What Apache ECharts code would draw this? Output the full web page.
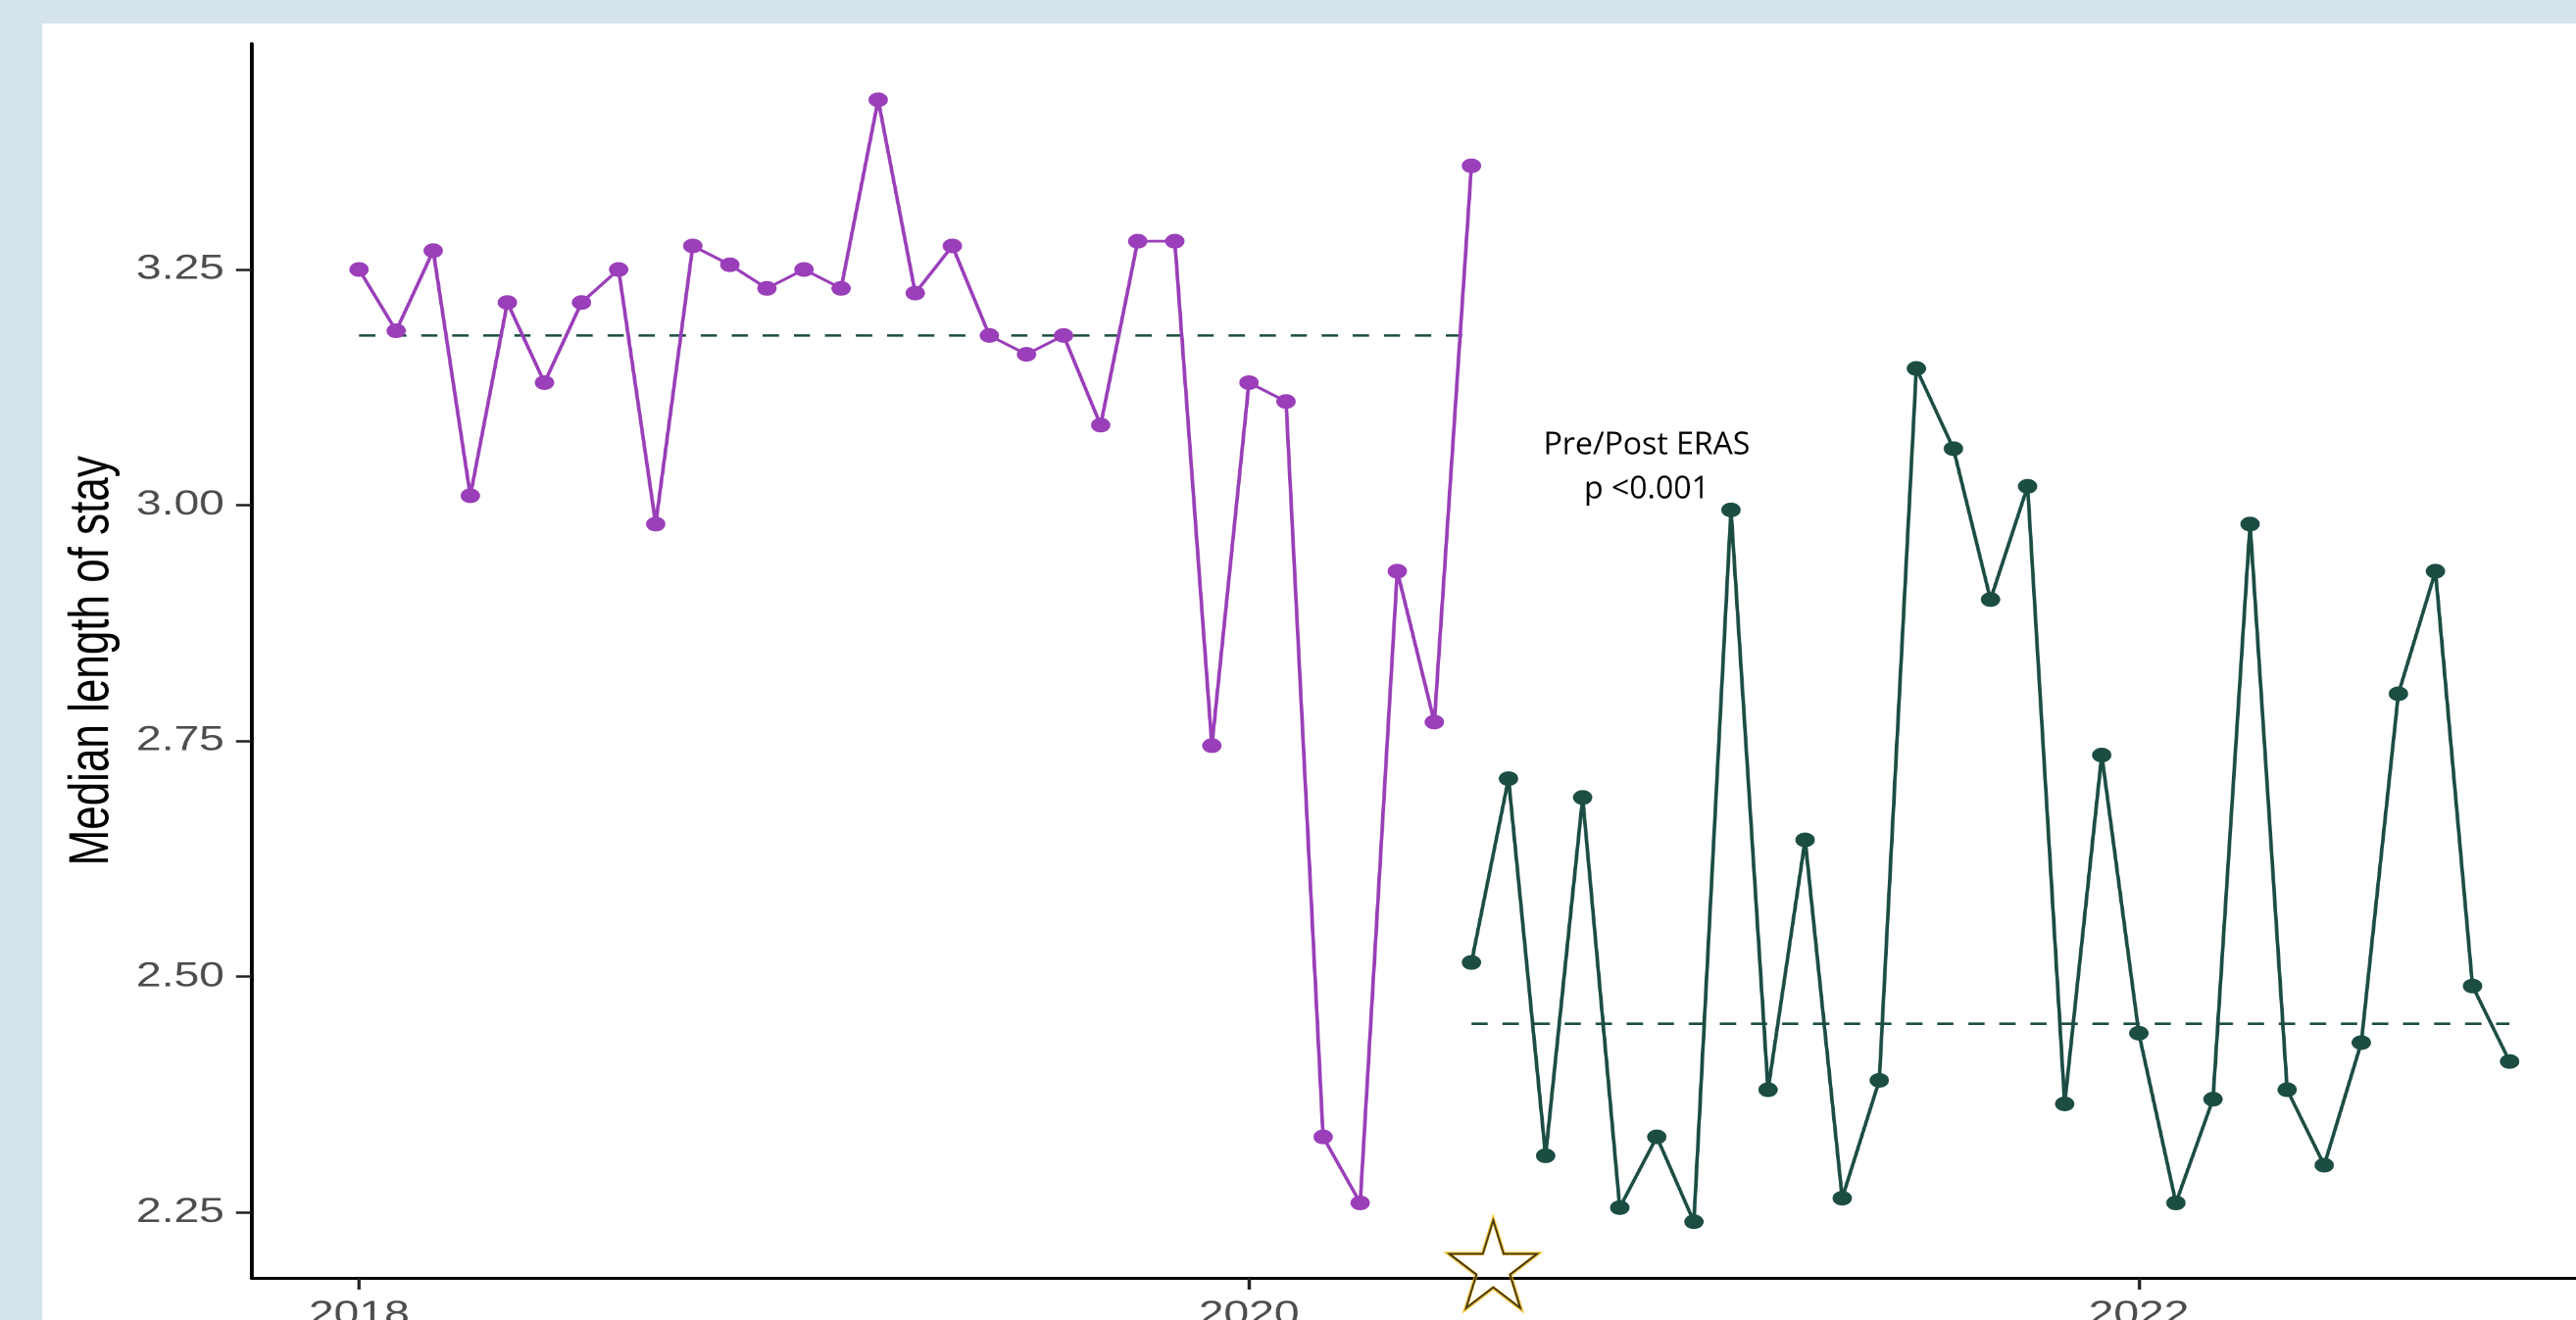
<!DOCTYPE html>
<html>
<head>
<meta charset="utf-8">
<title>Median length of stay, pre/post ERAS</title>
<script src="https://cdn.jsdelivr.net/npm/echarts@6/dist/echarts.min.js"></script>
<style>
  html, body { margin: 0; padding: 0; width: 2628px; height: 1347px; overflow: hidden; background: #d5e4eb; }
  #panel { position: absolute; left: 43px; top: 24px; right: 0; bottom: 0; background: #ffffff; }
  /* the plot is drawn on a narrower canvas and widened, as in the slide */
  #chart { position: absolute; left: 0; top: 0; width: 2100px; height: 1400px; transform-origin: 0 0; }
</style>
</head>
<body>
<div id="panel"></div>
<div id="chart"></div>
<script>
// ---- data ----
const preMonths = [
  '2018-01','2018-02','2018-03','2018-04','2018-05','2018-06','2018-07','2018-08','2018-09','2018-10','2018-11','2018-12',
  '2019-01','2019-02','2019-03','2019-04','2019-05','2019-06','2019-07','2019-08','2019-09','2019-10','2019-11','2019-12',
  '2020-01','2020-02','2020-03','2020-04','2020-05','2020-06','2020-07'
];
const preLOS = [
  3.25, 3.185, 3.27, 3.01, 3.215, 3.13, 3.215, 3.25, 2.98, 3.275, 3.255, 3.23,
  3.25, 3.23, 3.43, 3.225, 3.275, 3.18, 3.16, 3.18, 3.085, 3.28, 3.28, 2.745,
  3.13, 3.11, 2.33, 2.26, 2.93, 2.77, 3.36
];
const postMonths = [
  '2020-07','2020-08','2020-09','2020-10','2020-11','2020-12',
  '2021-01','2021-02','2021-03','2021-04','2021-05','2021-06','2021-07','2021-08','2021-09','2021-10','2021-11','2021-12',
  '2022-01','2022-02','2022-03','2022-04','2022-05','2022-06','2022-07','2022-08','2022-09','2022-10','2022-11'
];
const postLOS = [
  2.515, 2.71, 2.31, 2.69, 2.255, 2.33,
  2.24, 2.995, 2.38, 2.645, 2.265, 2.39, 3.145, 3.06, 2.90, 3.02, 2.365, 2.735,
  2.44, 2.26, 2.37, 2.98, 2.38, 2.30, 2.43, 2.80, 2.93, 2.49, 2.41
];
const preMedian = 3.18;
const postMedian = 2.45;
const yearTicks = [2018, 2020, 2022];
const losTicks = [2.25, 2.50, 2.75, 3.00, 3.25];
const erasStart = [2020.549, 2.195];           // star marking the ERAS roll-out
const annotation = { lines: ['Pre/Post ERAS', 'p <0.001'], at: [2020.894, 3.04] };

// ---- styling ----
const STRETCH = 1.32;
const PURPLE = '#9a3eb9';
const GREEN = '#1b4d43';
const AXIS_FONT = 'Liberation Sans, Arial, sans-serif';
const STAR_PATH = 'path://M50,0 L61.23,34.55 L97.55,34.55 L68.17,55.9 L79.39,90.45 L50,69.1 L20.61,90.45 L31.83,55.9 L2.45,34.55 L38.77,34.55 Z';

// month string -> decimal year
const toYear = m => { const [y, mo] = m.split('-').map(Number); return y + (mo - 1) / 12; };
const prePts = preMonths.map((m, i) => [toYear(m), preLOS[i]]);
const postPts = postMonths.map((m, i) => [toYear(m), postLOS[i]]);

// axis extents: data range padded by 5% on each side
const allX = prePts.concat(postPts).map(p => p[0]);
const allY = prePts.concat(postPts).map(p => p[1]);
const xMin = Math.min(...allX), xMax = Math.max(...allX);
const yMin = Math.min(...allY), yMax = Math.max(...allY);
const xPad = (xMax - xMin) * 0.05, yPad = (yMax - yMin) * 0.05;

const el = document.getElementById('chart');
el.style.transform = 'scaleX(' + STRETCH + ')';
const chart = echarts.init(el, null, { renderer: 'canvas', devicePixelRatio: 2 });

chart.setOption({
  animation: false,
  backgroundColor: 'transparent',
  grid: { left: 194.4, top: 44.6, width: 1828.3, height: 1259.4, containLabel: false },
  xAxis: {
    type: 'value',
    min: xMin - xPad,
    max: xMax + xPad,
    splitLine: { show: false },
    axisLine: { show: true, lineStyle: { color: '#000', width: 3 } },
    axisTick: { show: true, length: 12, customValues: yearTicks, lineStyle: { color: '#222', width: 2.5 } },
    axisLabel: {
      customValues: yearTicks, margin: 21,
      formatter: v => String(Math.round(v)),
      color: '#4d4d4d', fontSize: 35, fontFamily: AXIS_FONT
    }
  },
  yAxis: {
    type: 'value',
    min: yMin - yPad,
    max: yMax + yPad,
    name: 'Median length of stay',
    nameLocation: 'middle',
    nameGap: 101,
    nameTextStyle: { color: '#000', fontSize: 44, fontFamily: AXIS_FONT },
    splitLine: { show: false },
    axisLine: { show: true, lineStyle: { color: '#000', width: 3 } },
    axisTick: { show: true, length: 12, customValues: losTicks, lineStyle: { color: '#222', width: 2.5 } },
    axisLabel: {
      customValues: losTicks, margin: 21,
      formatter: v => v.toFixed(2),
      color: '#4d4d4d', fontSize: 35, fontFamily: AXIS_FONT
    }
  },
  series: [
    {
      name: 'Pre-ERAS median', type: 'line', silent: true, symbol: 'none', z: 1,
      data: [[prePts[0][0], preMedian], [prePts[prePts.length - 1][0], preMedian]],
      lineStyle: { color: GREEN, width: 2.6, type: [12.6, 11.4] }
    },
    {
      name: 'Post-ERAS median', type: 'line', silent: true, symbol: 'none', z: 1,
      data: [[postPts[0][0], postMedian], [postPts[postPts.length - 1][0], postMedian]],
      lineStyle: { color: GREEN, width: 2.6, type: [12.6, 11.4] }
    },
    {
      name: 'Pre-ERAS', type: 'line', z: 3, data: prePts,
      symbol: 'circle', symbolSize: 15, showAllSymbol: true,
      itemStyle: { color: PURPLE }, lineStyle: { color: PURPLE, width: 2.8 }
    },
    {
      name: 'Post-ERAS', type: 'line', z: 3, data: postPts,
      symbol: 'circle', symbolSize: 15, showAllSymbol: true,
      itemStyle: { color: GREEN }, lineStyle: { color: GREEN, width: 2.8 }
    },
    {
      name: 'ERAS start', type: 'scatter', silent: true, clip: false, z: 5,
      data: [erasStart], symbol: STAR_PATH, symbolSize: [91.5 / STRETCH, 91.5],
      itemStyle: { color: 'rgba(0,0,0,0)', borderColor: '#f2b400', borderWidth: 3.2 }
    },
    {
      name: 'ERAS start outline', type: 'scatter', silent: true, clip: false, z: 6,
      data: [erasStart], symbol: STAR_PATH, symbolSize: [89.5 / STRETCH, 89.5],
      itemStyle: { color: 'rgba(0,0,0,0)', borderColor: '#111', borderWidth: 1.6 }
    }
  ]
});

// p-value annotation, kept at its natural width inside the widened plot
const ap = chart.convertToPixel({ gridIndex: 0 }, annotation.at);
chart.setOption({
  graphic: [{
    type: 'text', x: ap[0], y: ap[1], scaleX: 1 / STRETCH, z: 10, silent: true,
    style: {
      text: annotation.lines.join('\n'),
      fill: '#000', fontSize: 32, fontFamily: 'Open Sans, sans-serif',
      lineHeight: 45, align: 'center', verticalAlign: 'middle',
      textAlign: 'center', textVerticalAlign: 'middle'
    }
  }]
});
</script>
</body>
</html>
